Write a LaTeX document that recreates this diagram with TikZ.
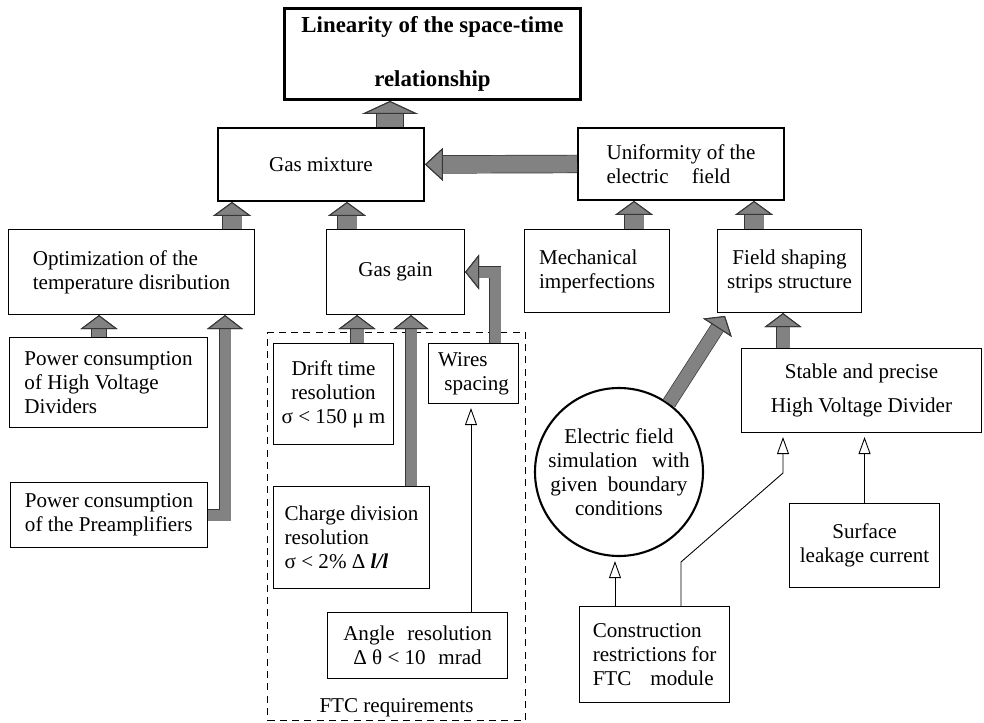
\documentclass[tikz,border=0pt]{standalone}
\usepackage{fontspec}
\setmainfont{Liberation Serif}
\usetikzlibrary{arrows.meta}
\definecolor{arrowgray}{RGB}{130,130,130}
\definecolor{arrowedge}{RGB}{55,55,55}
\tikzset{
  box/.style={
    draw=black,
    line width=0.6pt,
    fill=white,
    anchor=north west,
    inner sep=2pt,
    align=center,
    font=\fontsize{12}{13.7}\selectfont
  },
  box-left/.style={box, align=left},
  box-mid/.style={box, line width=1.1pt},
  box-top/.style={box, line width=1.7pt, font=\fontsize{13}{15}\selectfont\bfseries},
  ftc-frame/.style={draw=black, line width=0.6pt, dash pattern=on 4pt off 3pt, anchor=north west},
  sim-circle/.style={circle, draw=black, line width=1.2pt, fill=white, align=center,
    inner sep=0pt, minimum size=3.36cm, font=\fontsize{12}{13.7}\selectfont},
  thin-arrow/.style={line width=0.5pt, shorten >=0.08cm,
    -{Triangle[open, length=0.34cm, width=0.24cm]}}
}
% fat grey arrow: shaft width, head width, head length, path
\newcommand{\fatarrow}[4]{
  \draw[line width=#1+0.8pt, draw=arrowedge,
    -{Triangle[length=#3, width=#2, line width=0.6pt, fill=arrowgray, color=arrowedge]}] #4;
  \draw[line width=#1, draw=arrowgray,
    -{Triangle[length=#3, width=#2, line width=0.6pt, fill=arrowgray, color=arrowedge]}] #4;
}

\begin{document}
\begin{tikzpicture}
  \useasboundingbox (0,0) rectangle (19.68,-14.46);
  % FTC requirements frame
  \node[ftc-frame, minimum width=5.16cm, minimum height=7.76cm] (ftc) at (5.34,-6.64) {};
  \node[anchor=south, inner sep=2pt, font=\fontsize{12}{13.7}\selectfont] (ftc-label) at (ftc.south) {FTC requirements};
  % top rows
  \node[box-top, minimum width=5.92cm, minimum height=1.82cm] (title) at (5.66,-0.14)
    {Linearity of the space-time\\[16pt]relationship};
  \node[box-mid, minimum width=4.12cm, minimum height=1.46cm] (gasmix) at (4.34,-2.54) {Gas mixture};
  \node[box-left, line width=1.1pt, minimum width=4.12cm, minimum height=1.44cm] (unif) at (11.54,-2.54)
    {Uniformity of the\\electric\hspace{1.1em}field};
  \node[box-left, minimum width=4.92cm, minimum height=1.70cm] (opt) at (0.16,-4.58)
    {Optimization of the\\temperature disribution};
  \node[box, minimum width=2.76cm, minimum height=1.70cm] (gain) at (6.52,-4.58) {Gas gain};
  \node[box-left, minimum width=2.90cm, minimum height=1.66cm] (mech) at (10.48,-4.58)
    {Mechanical\\imperfections};
  \node[box, minimum width=2.88cm, minimum height=1.66cm] (field) at (14.34,-4.58)
    {Field shaping\\strips structure};
  % left column
  \node[box-left, minimum width=3.96cm, minimum height=1.80cm] (hvdiv) at (0.18,-6.74)
    {Power consumption\\of High Voltage\\Dividers};
  \node[box-left, minimum width=3.94cm, minimum height=1.30cm] (preamp) at (0.20,-9.64)
    {Power consumption\\of the Preamplifiers};
  % FTC requirements
  \node[box, minimum width=2.40cm, minimum height=2.02cm] (drift) at (5.46,-6.86)
    {Drift time\\resolution\\σ < 150 μ m};
  \node[box-left, minimum width=1.80cm, minimum height=1.20cm] (wires) at (8.56,-6.86)
    {Wires\\\hspace{0.3em}spacing};
  \node[box-left, minimum width=3.12cm, minimum height=2.04cm] (charge) at (5.46,-9.72)
    {Charge division\\resolution\\σ < 2\% Δ \textbf{\textit{l/l}}};
  \node[box, minimum width=3.60cm, minimum height=1.32cm] (angle) at (6.54,-12.24)
    {Angle\hspace{0.6em}resolution\\Δ θ < 10\hspace{0.6em}mrad};
  % right side
  \node[box, minimum width=4.80cm, minimum height=1.68cm] (stable) at (14.82,-6.96)
    {Stable and precise\\[6pt]High Voltage Divider};
  \node[sim-circle] (sim) at (12.38,-9.44)
    {Electric field\\simulation\hspace{0.7em}with\\given\hspace{0.5em}boundary\\conditions};
  \node[box, minimum width=3.00cm, minimum height=1.68cm] (surface) at (15.78,-10.06)
    {Surface\\leakage current};
  \node[box-left, minimum width=3.00cm, minimum height=1.92cm] (constr) at (11.58,-12.12)
    {Construction\\restrictions for\\FTC\hspace{0.9em}module};
  % columns of the arrows
  \coordinate (c-top) at (7.80,0);
  \coordinate (c-opt) at (4.64,0);
  \coordinate (c-gain) at (6.94,0);
  \coordinate (c-mech) at (12.68,0);
  \coordinate (c-field) at (15.08,0);
  \coordinate (c-hv) at (1.98,0);
  \coordinate (c-pre) at (4.50,0);
  \coordinate (c-drift) at (7.14,0);
  \coordinate (c-charge) at (8.22,0);
  \coordinate (c-wire) at (9.90,0);
  \coordinate (c-stable) at (15.66,0);
  \coordinate (c-sim) at (14.50,-6.32);
  \coordinate (c-ang) at (9.42,0);
  \coordinate (c-con1) at (12.30,0);
  \coordinate (c-con2) at (13.62,-11.24);
  \coordinate (c-bend) at (15.66,-9.46);
  % fat arrows
  \fatarrow{0.52cm}{1.12cm}{0.26cm}{(gasmix.north -| c-top) -- (title.south -| c-top)}
  \fatarrow{0.34cm}{0.66cm}{0.36cm}{(unif.west) -- (gasmix.east)}
  \fatarrow{0.38cm}{0.76cm}{0.28cm}{(opt.north -| c-opt) -- (gasmix.south -| c-opt)}
  \fatarrow{0.38cm}{0.76cm}{0.28cm}{(gain.north -| c-gain) -- (gasmix.south -| c-gain)}
  \fatarrow{0.38cm}{0.76cm}{0.28cm}{(mech.north -| c-mech) -- (unif.south -| c-mech)}
  \fatarrow{0.38cm}{0.76cm}{0.28cm}{(field.north -| c-field) -- (unif.south -| c-field)}
  \fatarrow{0.28cm}{0.74cm}{0.28cm}{(hvdiv.north -| c-hv) -- (opt.south -| c-hv)}
  \fatarrow{0.22cm}{0.72cm}{0.28cm}{(preamp.east) -- (preamp.east -| c-pre) -- (opt.south -| c-pre)}
  \fatarrow{0.26cm}{0.74cm}{0.28cm}{(drift.north -| c-drift) -- (gain.south -| c-drift)}
  \fatarrow{0.22cm}{0.70cm}{0.28cm}{(charge.north -| c-charge) -- (gain.south -| c-charge)}
  \fatarrow{0.22cm}{0.70cm}{0.28cm}{(wires.north -| c-wire) -- (c-wire |- gain.east) -- (gain.east)}
  \fatarrow{0.26cm}{0.74cm}{0.28cm}{(stable.north -| c-stable) -- (field.south -| c-stable)}
  \fatarrow{0.26cm}{0.68cm}{0.28cm}{(sim.54) -- (c-sim)}
  % thin arrows
  \draw[thin-arrow] (angle.north -| c-ang) -- (wires.south -| c-ang);
  \draw[thin-arrow] (constr.north -| c-con1) -- (sim.south -| c-con1);
  \draw[thin-arrow] (constr.north -| c-con2) -- (c-con2) -- (c-bend) -- (stable.south -| c-bend);
  \draw[thin-arrow] (surface.north) -- (stable.south -| surface.north);
\end{tikzpicture}
\end{document}
